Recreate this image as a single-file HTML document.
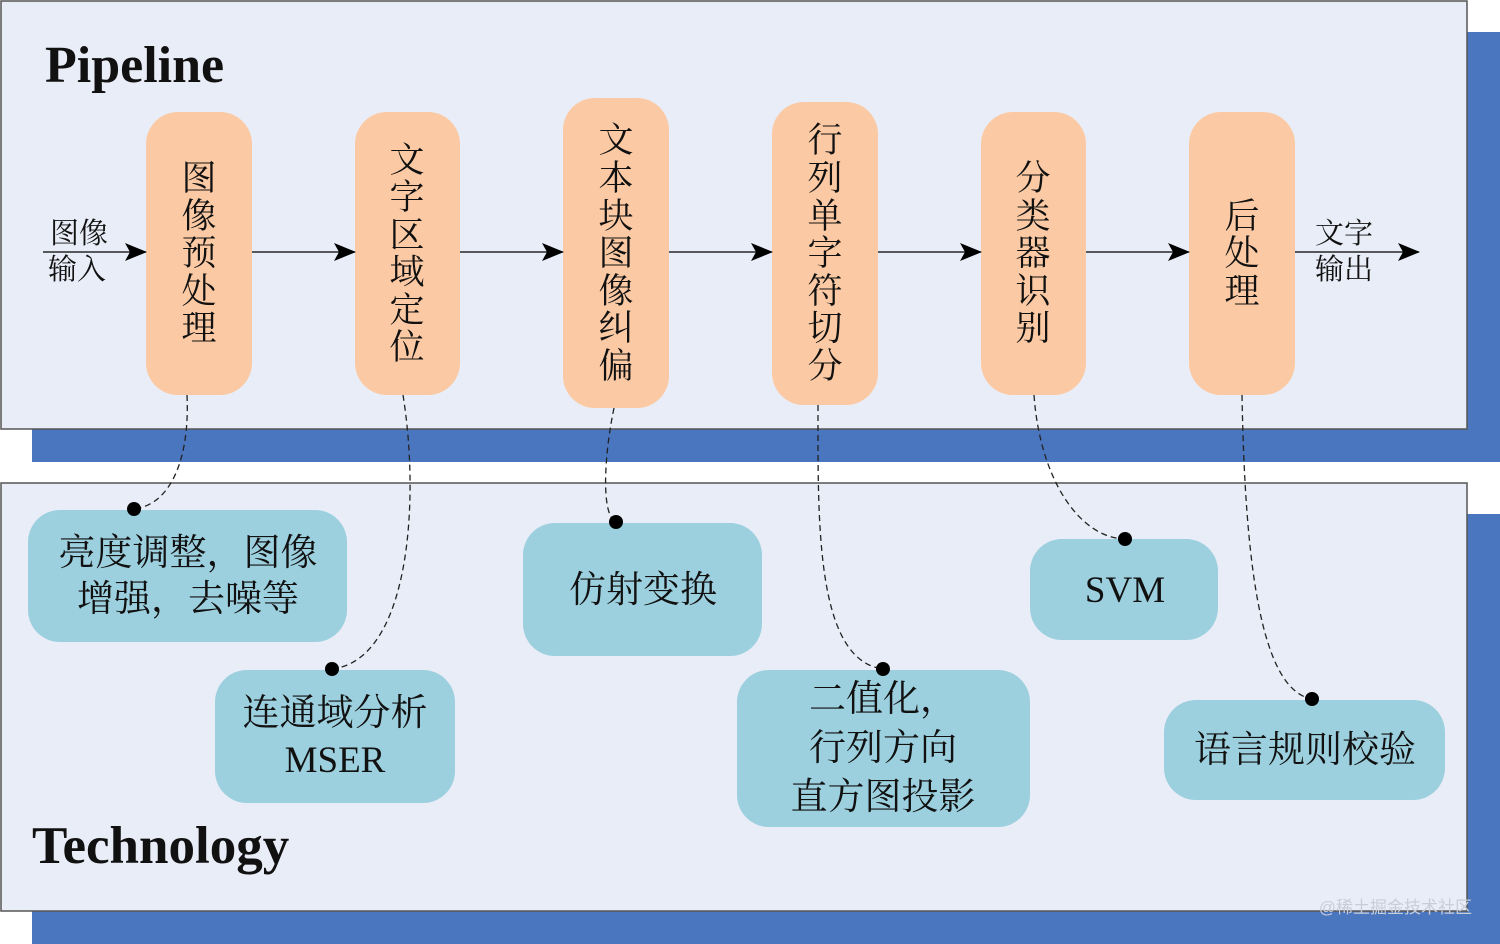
<!DOCTYPE html>
<html><head><meta charset="utf-8"><style>
html,body{margin:0;padding:0;background:#fff}
svg{display:block}
.cj{font-family:"Liberation Serif","Noto Serif CJK SC",serif;fill:#111}
</style></head><body>
<svg width="1500" height="944" viewBox="0 0 1500 944" xmlns="http://www.w3.org/2000/svg">
<defs>
<marker id="ar" markerWidth="22" markerHeight="18" refX="21" refY="9" orient="auto" markerUnits="userSpaceOnUse">
<path d="M0,0 L22,9 L0,18 L5,9 Z" fill="#000"/></marker>
</defs>
<rect x="32" y="32" width="1468" height="430" fill="#4a76c0"/>
<rect x="1" y="1" width="1466" height="428" fill="#e9edf7" stroke="#555" stroke-width="1.5"/>
<rect x="32" y="514" width="1468" height="430" fill="#4a76c0"/>
<rect x="1" y="483" width="1466" height="428" fill="#e9edf7" stroke="#555" stroke-width="1.5"/>
<text x="45" y="82" class="cj" font-size="52" font-weight="bold">Pipeline</text>
<text x="32" y="863" class="cj" font-size="53" font-weight="bold">Technology</text>

<g fill="#fbcaa4">
<rect x="146" y="112" width="106" height="283" rx="32"/>
<rect x="355" y="112" width="105" height="283" rx="32"/>
<rect x="563" y="98" width="106" height="310" rx="32"/>
<rect x="772" y="102" width="106" height="303" rx="32"/>
<rect x="981" y="112" width="105" height="283" rx="32"/>
<rect x="1189" y="112" width="106" height="283" rx="32"/>
</g>
<g class="cj" font-size="35" text-anchor="middle">
<text x="199"><tspan x="199" y="190">图</tspan><tspan x="199" y="228">像</tspan><tspan x="199" y="265">预</tspan><tspan x="199" y="303">处</tspan><tspan x="199" y="340">理</tspan></text>
<text><tspan x="407" y="172">文</tspan><tspan x="407" y="209">字</tspan><tspan x="407" y="247">区</tspan><tspan x="407" y="284">域</tspan><tspan x="407" y="322">定</tspan><tspan x="407" y="359">位</tspan></text>
<text><tspan x="616" y="152">文</tspan><tspan x="616" y="190">本</tspan><tspan x="616" y="228">块</tspan><tspan x="616" y="265">图</tspan><tspan x="616" y="303">像</tspan><tspan x="616" y="340">纠</tspan><tspan x="616" y="378">偏</tspan></text>
<text><tspan x="825" y="152">行</tspan><tspan x="825" y="190">列</tspan><tspan x="825" y="228">单</tspan><tspan x="825" y="265">字</tspan><tspan x="825" y="303">符</tspan><tspan x="825" y="340">切</tspan><tspan x="825" y="378">分</tspan></text>
<text><tspan x="1033" y="190">分</tspan><tspan x="1033" y="228">类</tspan><tspan x="1033" y="265">器</tspan><tspan x="1033" y="303">识</tspan><tspan x="1033" y="340">别</tspan></text>
<text><tspan x="1242" y="228">后</tspan><tspan x="1242" y="265">处</tspan><tspan x="1242" y="303">理</tspan></text>
</g>
<g stroke="#000" stroke-width="1.3" marker-end="url(#ar)">
<line x1="43" y1="252" x2="146" y2="252"/>
<line x1="252" y1="252" x2="355" y2="252"/>
<line x1="460" y1="252" x2="563" y2="252"/>
<line x1="669" y1="252" x2="772" y2="252"/>
<line x1="878" y1="252" x2="981" y2="252"/>
<line x1="1086" y1="252" x2="1189" y2="252"/>
<line x1="1295" y1="252" x2="1419" y2="252"/>
</g>
<g class="cj" font-size="29">
<text x="50" y="243">图像</text><text x="48" y="279">输入</text>
<text x="1315" y="243">文字</text><text x="1315" y="279">输出</text>
</g>

<g fill="#9dd0df">
<rect x="28" y="510" width="319" height="132" rx="32"/>
<rect x="215" y="670" width="240" height="133" rx="32"/>
<rect x="523" y="523" width="239" height="133" rx="32"/>
<rect x="737" y="670" width="293" height="157" rx="32"/>
<rect x="1030" y="539" width="188" height="101" rx="32"/>
<rect x="1164" y="700" width="281" height="100" rx="32"/>
</g>
<g class="cj" font-size="37" text-anchor="middle">
<text x="188" y="565">亮度调整，图像</text>
<text x="188" y="611">增强，去噪等</text>
<text x="335" y="725">连通域分析</text>
<text x="335" y="772">MSER</text>
<text x="643" y="602">仿射变换</text>
<text x="883" y="711">二值化，</text>
<text x="883" y="760">行列方向</text>
<text x="883" y="809">直方图投影</text>
<text x="1125" y="602">SVM</text>
<text x="1305" y="762">语言规则校验</text>
</g>
<g fill="none" stroke="#222" stroke-width="1.3" stroke-dasharray="6,4">
<path d="M187,395 C190,460 170,505 134,509"/>
<path d="M403,395 C420,500 410,660 332,669"/>
<path d="M614,408 C605,450 600,515 616,522"/>
<path d="M818,405 C818,520 815,660 883,669"/>
<path d="M1034,395 C1040,480 1080,538 1125,539"/>
<path d="M1242,395 C1245,560 1260,690 1312,699"/>
</g>
<g fill="#000">
<circle cx="134" cy="509" r="7"/><circle cx="332" cy="669" r="7"/>
<circle cx="616" cy="522" r="7"/><circle cx="883" cy="669" r="7"/>
<circle cx="1125" cy="539" r="7"/><circle cx="1312" cy="699" r="7"/>
</g>
<text x="1472" y="913" text-anchor="end" font-size="17" fill="#c8cdd8" font-family="Liberation Sans,Noto Sans CJK SC,sans-serif">@稀土掘金技术社区</text>
</svg>
</body></html>
